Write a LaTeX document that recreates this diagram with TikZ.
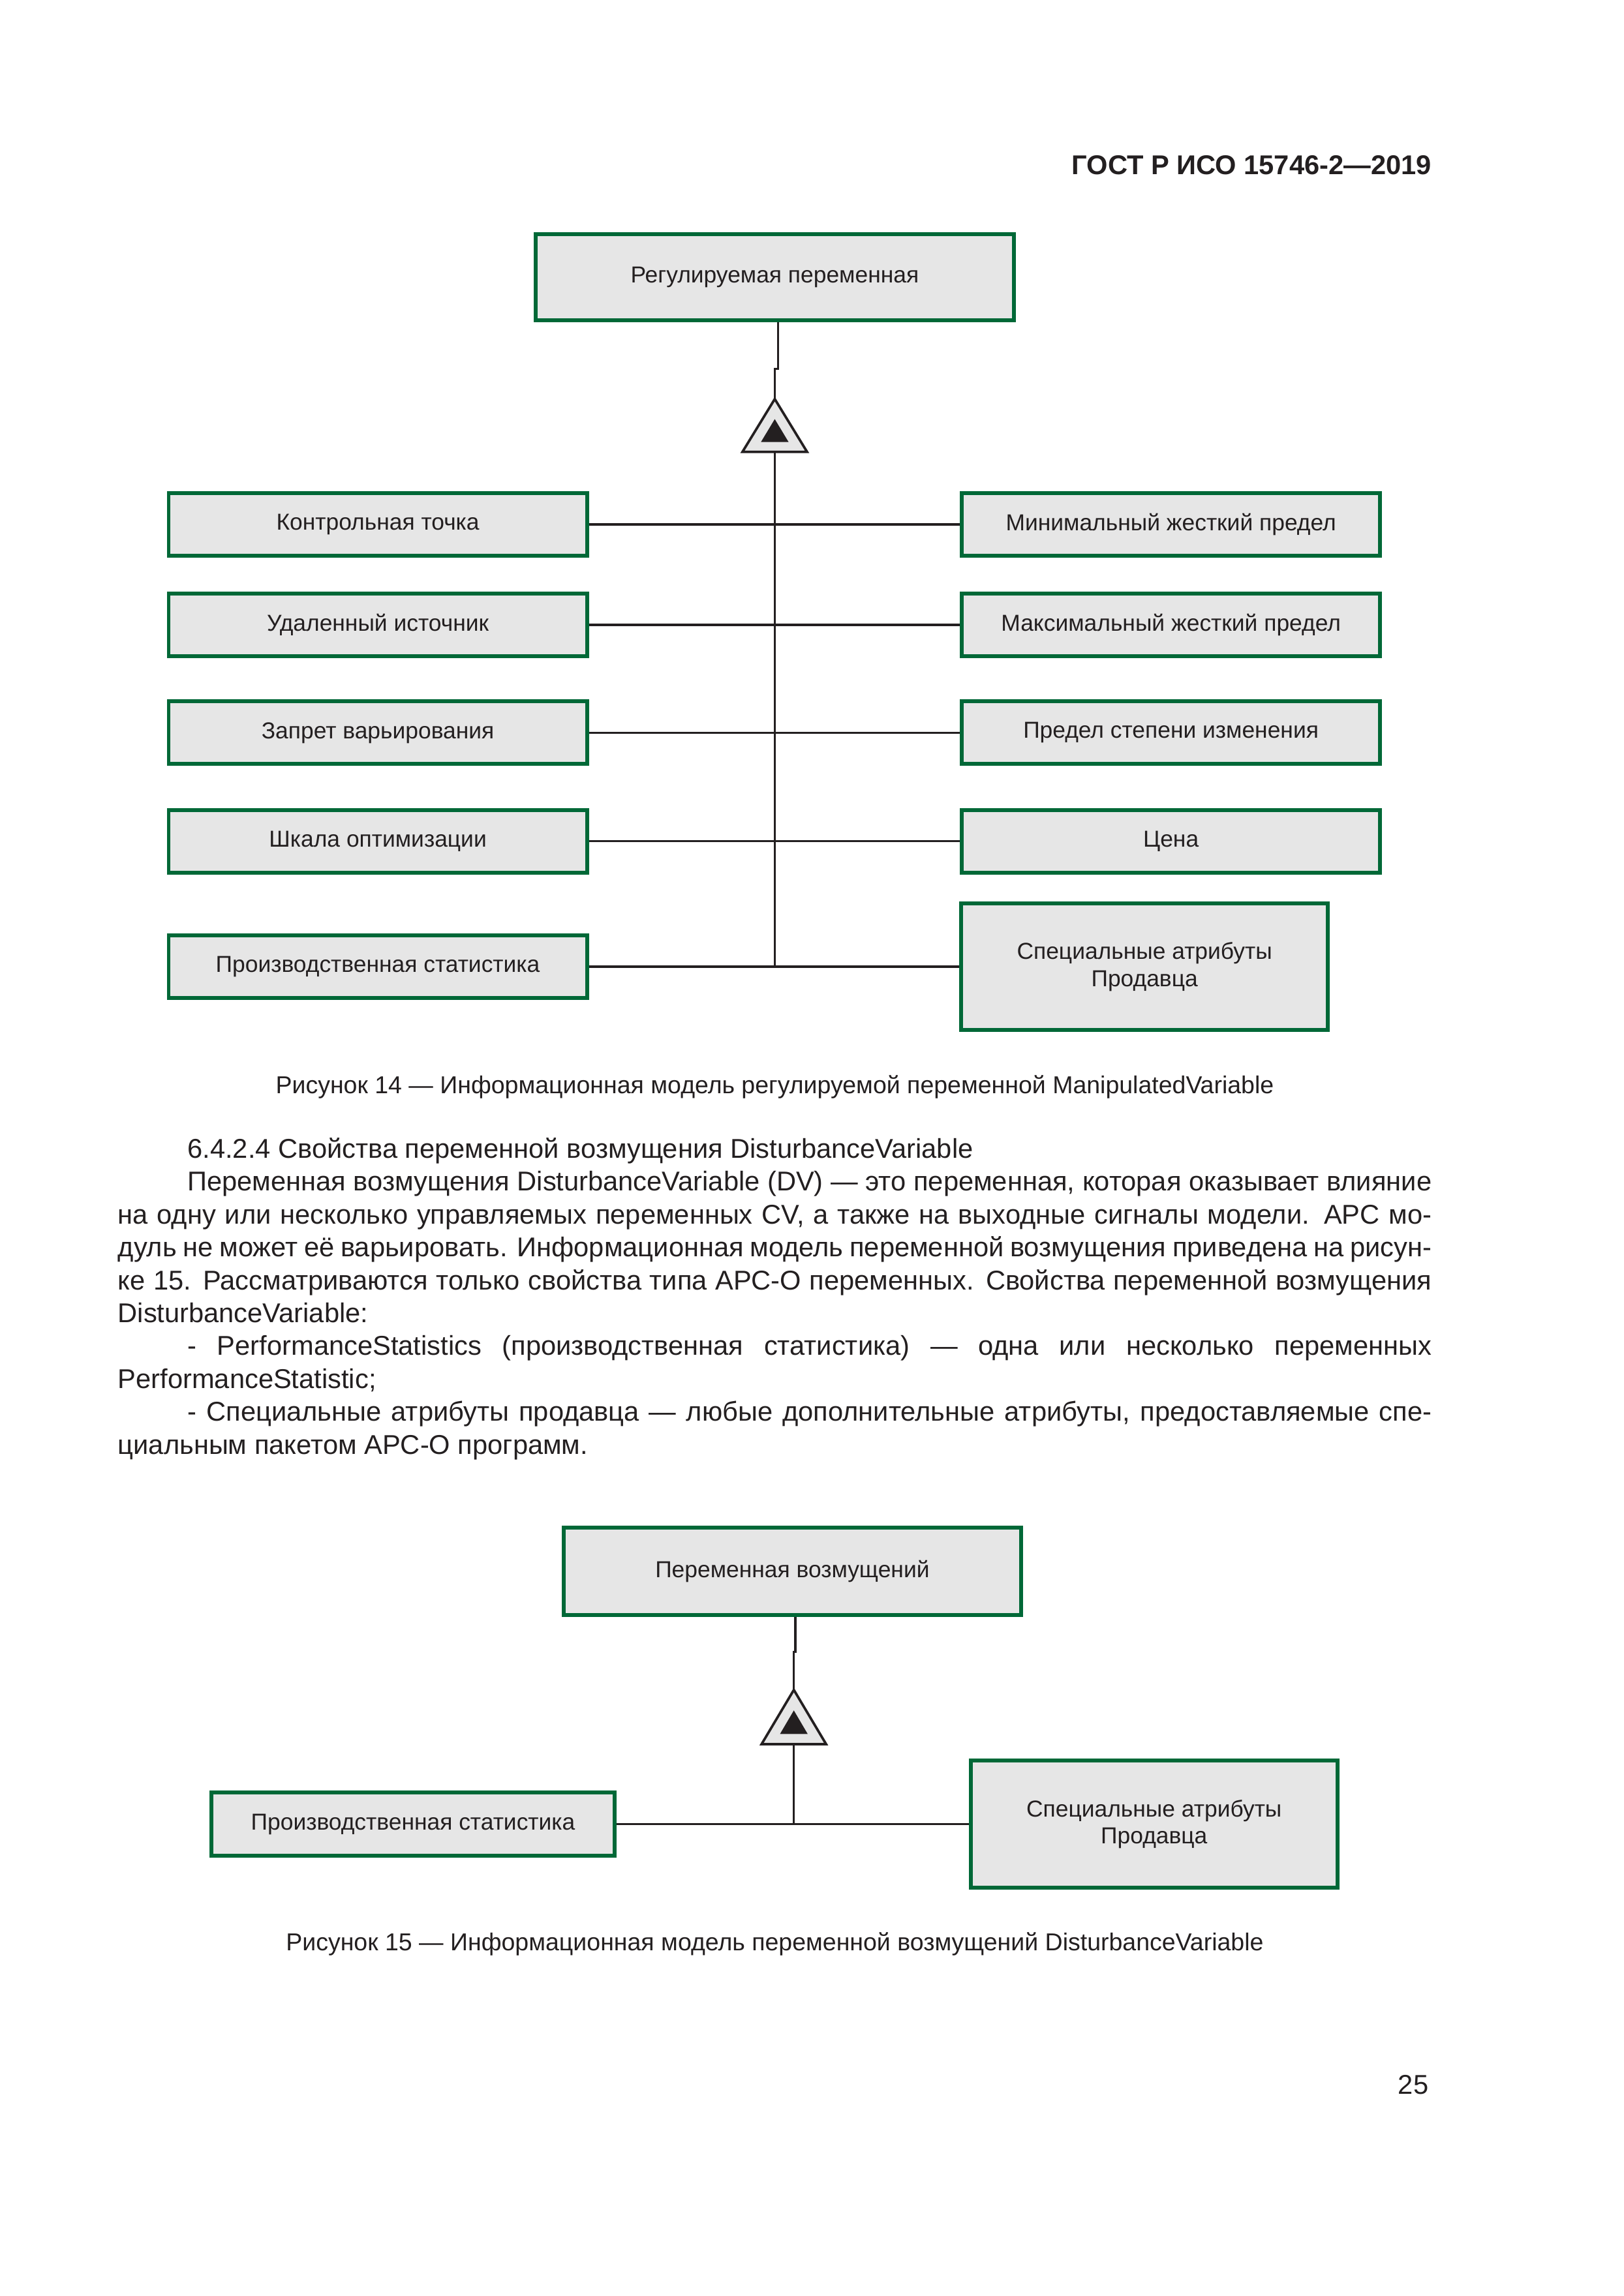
\documentclass[tikz,border=0pt]{standalone}
\usepackage{fontspec}
\setmainfont{Liberation Sans}
\usetikzlibrary{calc}

\definecolor{boxgreen}{RGB}{0,104,55}
\definecolor{boxfill}{RGB}{230,230,230}
\definecolor{linecol}{RGB}{35,31,32}

\tikzset{
  attrbox/.style={draw=boxgreen, line width=1.4pt, fill=boxfill, text=linecol,
    font=\fontsize{8.5}{10}\selectfont, align=center, inner sep=0pt},
  rowbox/.style={attrbox, minimum width=54.1mm, minimum height=8.1mm},
  bigbox/.style={attrbox, minimum width=47.4mm, minimum height=16.4mm},
  link/.style={draw=linecol, line width=0.8pt},
  gentri/.style={draw=linecol, line width=0.9pt, fill=boxfill, line join=miter},
  bodytext/.style={text=linecol, font=\fontsize{10}{12.1}\selectfont},
  captext/.style={text=linecol, font=\fontsize{9}{11}\selectfont},
}

\begin{document}
\begin{tikzpicture}[x=0.18976mm,y=-0.18976mm]
\useasboundingbox (0,0) rectangle (1106.6,1565.2);
% page head
\node[bodytext, font=\bfseries\fontsize{10}{12}\selectfont, anchor=base east] (hdr) at (982,119) {ГОСТ Р ИСО 15746-2—2019};

%% Figure 14
\node[attrbox, minimum width=61.9mm, minimum height=11.1mm] (mv) at (528,189) {Регулируемая переменная};
\coordinate (ta1) at (528,272);
\coordinate (tb1) at (528,308);
\draw[gentri] (ta1) -- ++(-22,36) -- ++(44,0) -- cycle;
\fill[linecol] ($(ta1)+(0,13.7)$) -- ++(-9.4,15.6) -- ++(18.8,0) -- cycle;
\draw[link] ([xshift=0.4mm]mv.south) -- ++(0,32) -| (ta1);

\node[rowbox] (l1) at (257.5,357.5) {Контрольная точка};
\node[rowbox] (l2) at (257.5,426) {Удаленный источник};
\node[rowbox] (l3) at (257.5,499.5) {Запрет варьирования};
\node[rowbox] (l4) at (257.5,573.5) {Шкала оптимизации};
\node[rowbox] (l5) at (257.5,659) {Производственная статистика};

\node[rowbox] (r1) at (798,357.5) {Минимальный жесткий предел};
\node[rowbox] (r2) at (798,426) {Максимальный жесткий предел};
\node[rowbox] (r3) at (798,499.5) {Предел степени изменения};
\node[rowbox] (r4) at (798,573.5) {Цена};
\node[bigbox] (r5) at (780,659) {Специальные атрибуты\\Продавца};

\draw[link] (tb1) -- (tb1 |- l5.east);
\foreach \i in {1,...,5}
  \draw[link] (l\i.east) -- (r\i.west);

\node[captext] (cap14) at (528,741) {Рисунок 14 — Информационная модель регулируемой переменной ManipulatedVariable};

%% text
\node[bodytext, anchor=base west, text width=169.9mm, align=justify, inner sep=0pt] (txt) at (80,789.5) {%
\hspace*{9mm}6.4.2.4 Свойства переменной возмущения DisturbanceVariable\par
\hspace*{9mm}Переменная возмущения DisturbanceVariable (DV) — это переменная, которая оказывает влияние\linebreak
на одну или несколько управляемых переменных CV, а также на выходные сигналы модели. APC мо-\linebreak
дуль не может её варьировать. Информационная модель переменной возмущения приведена на рисун-\linebreak
ке 15. Рассматриваются только свойства типа APC-O переменных. Свойства переменной возмущения\linebreak
DisturbanceVariable:\par
\hspace*{9mm}- PerformanceStatistics (производственная статистика) — одна или несколько переменных\linebreak
PerformanceStatistic;\par
\hspace*{9mm}- Специальные атрибуты продавца — любые дополнительные атрибуты, предоставляемые спе-\linebreak
циальным пакетом APC-O программ.};

%% Figure 15
\node[attrbox, minimum width=59.2mm, minimum height=11.3mm] (dv) at (540,1071) {Переменная возмущений};
\coordinate (ta2) at (541,1152);
\coordinate (tb2) at (541,1189);
\draw[gentri] (ta2) -- ++(-22,37) -- ++(44,0) -- cycle;
\fill[linecol] ($(ta2)+(0,14)$) -- ++(-9.4,16) -- ++(18.8,0) -- cycle;
\draw[link] ([xshift=0.4mm]dv.south) -- ++(0,24) -| (ta2);

\node[rowbox, minimum width=52.1mm, minimum height=8.2mm] (ps) at (281.5,1243.5) {Производственная статистика};
\node[bigbox] (sa) at (786.5,1243.5) {Специальные атрибуты\\Продавца};
\draw[link] (tb2) -- (tb2 |- ps.east);
\draw[link] (ps.east) -- (sa.west);

\node[captext] (cap15) at (528,1325.5) {Рисунок 15 — Информационная модель переменной возмущений DisturbanceVariable};

\node[bodytext, anchor=base east] (pgno) at (980,1427.6) {25};
\end{tikzpicture}
\end{document}
